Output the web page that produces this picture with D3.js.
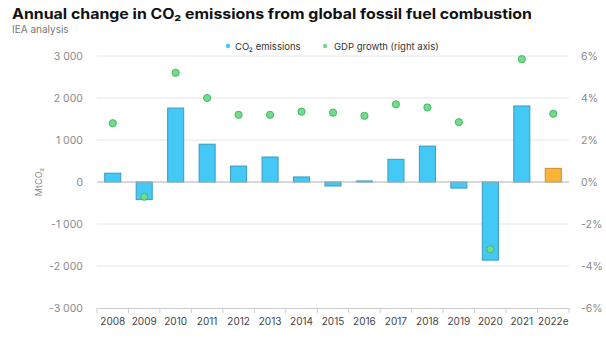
<!DOCTYPE html>
<html>
<head>
<meta charset="utf-8">
<script src="https://cdn.jsdelivr.net/npm/d3@7/dist/d3.min.js"></script>
<style>
  body { margin: 0; background: #fff; }
  svg text { font-family: Inter, "Open Sans", sans-serif; }
</style>
</head>
<body>
<div id="chart"></div>
<script>
// data
var years = ["2008", "2009", "2010", "2011", "2012", "2013", "2014", "2015", "2016", "2017", "2018", "2019", "2020", "2021", "2022e"];
var co2Change = [210, -420, 1760, 900, 380, 595, 120, -95, 25, 540, 855, -145, -1860, 1810, 325];
var gdpGrowth = [2.8, -0.7, 5.2, 4.0, 3.2, 3.2, 3.35, 3.3, 3.15, 3.7, 3.55, 2.85, -3.2, 5.85, 3.25];
var leftTicks = [-3000, -2000, -1000, 0, 1000, 2000, 3000];
var rightTicks = [-6, -4, -2, 0, 2, 4, 6];

var width = 606, height = 340;
var margin = { top: 56, right: 37, bottom: 32, left: 97 };

var svg = d3.select("#chart").append("svg").attr("width", width).attr("height", height);

var x = d3.scaleBand().domain(years).range([margin.left, width - margin.right]).paddingInner(0.49).paddingOuter(0.245);
var y = d3.scaleLinear().domain([-3000, 3000]).range([height - margin.bottom, margin.top]);
var y2 = d3.scaleLinear().domain([-6, 6]).range([height - margin.bottom, margin.top]);

function fmtThousands(d) {
  var s = String(Math.abs(d));
  if (s.length > 3) s = s.slice(0, s.length - 3) + " " + s.slice(s.length - 3);
  return (d < 0 ? "-" : "") + s;
}

// title
svg.append("text").attr("x", 12).attr("y", 19).attr("font-size", 14).attr("font-weight", "bold").attr("fill", "#111")
  .attr("textLength", 520).attr("lengthAdjust", "spacingAndGlyphs")
  .text("Annual change in CO\u2082 emissions from global fossil fuel combustion");
svg.append("text").attr("x", 12).attr("y", 32.5).attr("font-size", 10).attr("fill", "#777").text("IEA analysis");

// gridlines
svg.append("g").selectAll("line").data(leftTicks.filter(function(d){ return d !== 0 && d !== -3000; }))
  .enter().append("line")
  .attr("x1", margin.left).attr("x2", width - margin.right)
  .attr("y1", function(d){ return y(d); }).attr("y2", function(d){ return y(d); })
  .attr("stroke", "#e6e6e6").attr("stroke-width", 1);

// left axis labels
var yAxis = d3.axisLeft(y).tickValues(leftTicks).tickSize(0).tickPadding(14).tickFormat(fmtThousands);
var gl = svg.append("g").attr("transform", "translate(" + margin.left + ",0)").call(yAxis);
gl.select(".domain").remove();
gl.selectAll("text").attr("font-size", 10.5).attr("fill", "#8a8a8a").attr("font-family", "Inter, sans-serif");

// right axis labels
var y2Axis = d3.axisRight(y2).tickValues(rightTicks).tickSize(0).tickPadding(12)
  .tickFormat(function(d){ return (d < 0 ? "-" + (-d) : d) + "%"; });
var gr = svg.append("g").attr("transform", "translate(" + (width - margin.right) + ",0)").call(y2Axis);
gr.select(".domain").remove();
gr.selectAll("text").attr("font-size", 10.5).attr("fill", "#8a8a8a").attr("font-family", "Inter, sans-serif");

// y title
svg.append("text").attr("transform", "translate(42," + y(0) + ") rotate(-90)").attr("text-anchor", "middle")
  .attr("font-size", 9).attr("fill", "#888").text("MtCO\u2082");

// bars
svg.append("g").selectAll("rect").data(years).enter().append("rect")
  .attr("x", function(d){ return x(d); })
  .attr("width", x.bandwidth())
  .attr("y", function(d, i){ return y(Math.max(0, co2Change[i])); })
  .attr("height", function(d, i){ return Math.abs(y(co2Change[i]) - y(0)); })
  .attr("fill", function(d){ return d === "2022e" ? "#f9b53a" : "#44c8f5"; })
  .attr("stroke", function(d){ return d === "2022e" ? "#c98f2c" : "#3a9bc0"; })
  .attr("stroke-width", 1);

// zero line
svg.append("line").attr("x1", margin.left).attr("x2", width - margin.right)
  .attr("y1", y(0)).attr("y2", y(0)).attr("stroke", "#b0b0b0").attr("stroke-width", 1);

// x axis
var xAxis = d3.axisBottom(x).tickSize(0).tickPadding(10);
var gx = svg.append("g").attr("transform", "translate(0," + y(-3000) + ")").call(xAxis);
gx.select(".domain").attr("stroke", "#ccc");
gx.selectAll("text").attr("font-size", 10).attr("fill", "#444").attr("font-family", "Inter, sans-serif");
var step = x.step();
var bounds = d3.range(years.length + 1).map(function(i){ return margin.left + i * step; });
svg.append("g").selectAll("line").data(bounds).enter().append("line")
  .attr("x1", function(d){ return d; }).attr("x2", function(d){ return d; })
  .attr("y1", y(-3000)).attr("y2", y(-3000) + 5).attr("stroke", "#ccc");

// gdp dots
svg.append("g").selectAll("circle").data(years).enter().append("circle")
  .attr("cx", function(d){ return x(d) + x.bandwidth() / 2; })
  .attr("cy", function(d, i){ return y2(gdpGrowth[i]); })
  .attr("r", 3.6)
  .attr("fill", "#72dc8c").attr("stroke", "#45b866").attr("stroke-width", 1);

// legend
var legend = svg.append("g").attr("font-size", 9.5).attr("fill", "#333");
legend.append("circle").attr("cx", 228).attr("cy", 46).attr("r", 2.2).attr("fill", "#44c8f5");
legend.append("text").attr("x", 235).attr("y", 49.5).text("CO\u2082 emissions");
legend.append("circle").attr("cx", 325).attr("cy", 46).attr("r", 2.2).attr("fill", "#72dc8c");
legend.append("text").attr("x", 334).attr("y", 49.5).text("GDP growth (right axis)");
</script>
</body>
</html>
